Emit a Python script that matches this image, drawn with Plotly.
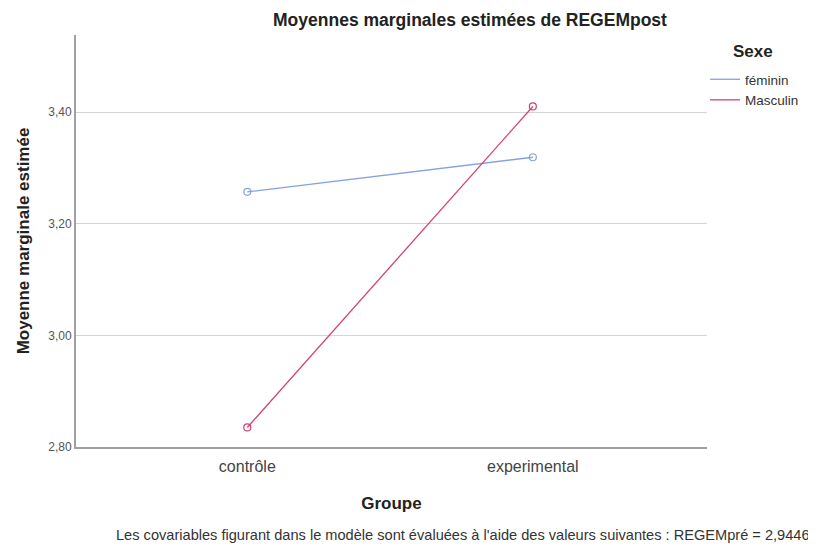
import plotly.graph_objects as go

groups = ["contrôle", "experimental"]
feminin = [3.257, 3.319]
masculin = [2.835, 3.410]
series_names = ["féminin", "Masculin"]
colors = ["#84a2e0", "#d3426f"]

W, H = 808, 543  # page body has an 8px margin in the browser window
fig = go.Figure()
for name, vals, col in zip(series_names, [feminin, masculin], colors):
    fig.add_trace(go.Scatter(
        x=groups, y=vals, name=name, mode="lines+markers", showlegend=False,
        line=dict(color=col, width=1.3),
        marker=dict(symbol="circle-open", size=7, color=col, line=dict(width=1.2)),
    ))
# legend entries drawn as plain lines (no markers), as in the reference
for name, col in zip(series_names, colors):
    fig.add_trace(go.Scatter(
        x=[None], y=[None], name=name, mode="lines",
        line=dict(color=col, width=1.3), showlegend=True,
    ))

fig.update_layout(
    width=W, height=H,
    paper_bgcolor="white", plot_bgcolor="white",
    separators=", ",
    margin=dict(l=68, r=109, t=27, b=104),
    font=dict(family="Liberation Sans, Arial", color="#222"),
    title=dict(text="<b>Moyennes marginales estimées de REGEMpost</b>",
               x=462/W, xanchor="center", y=1-12/H, yanchor="middle",
               font=dict(size=17.5, color="#222")),
    legend=dict(x=0.997, xanchor="left", y=1-(56-27)/412, yanchor="top",
                font=dict(size=13.5, color="#333"), itemwidth=30,
                tracegroupgap=0, bgcolor="rgba(0,0,0,0)"),
    xaxis=dict(type="category", range=[-0.6, 1.61],
               showgrid=False, showline=True, linecolor="#a0a0a0", linewidth=2,
               ticks="", tickfont=dict(size=16, color="#444"), ticklabelstandoff=4,
               title=dict(text="<b>Groupe</b>", font=dict(size=17, color="#222"), standoff=23),
               zeroline=False),
    yaxis=dict(range=[2.8, 3.538], tickvals=[2.8, 3.0, 3.2, 3.4], tickformat=".2f",
               showgrid=True, gridcolor="#d4d4d4", gridwidth=1,
               showline=True, linecolor="#a0a0a0", linewidth=2,
               ticks="", tickfont=dict(size=12, color="#555"),
               title=dict(text="<b>Moyenne marginale estimée</b>", font=dict(size=17, color="#222"), standoff=14),
               zeroline=False),
    annotations=[
        dict(text="<b>Sexe</b>", xref="paper", yref="paper",
             x=(745-68)/631, xanchor="center", y=1-(44-27)/412, yanchor="middle",
             showarrow=False, font=dict(size=17, color="#222")),
        dict(text="Les covariables figurant dans le modèle sont évaluées à l'aide des valeurs suivantes : REGEMpré = 2,9446",
             xref="paper", yref="paper", x=(804-68)/631, xanchor="right",
             y=-(527-439)/412, yanchor="middle", showarrow=False,
             font=dict(size=14.6, color="#333"))],
)

fig.write_html("out.html")
